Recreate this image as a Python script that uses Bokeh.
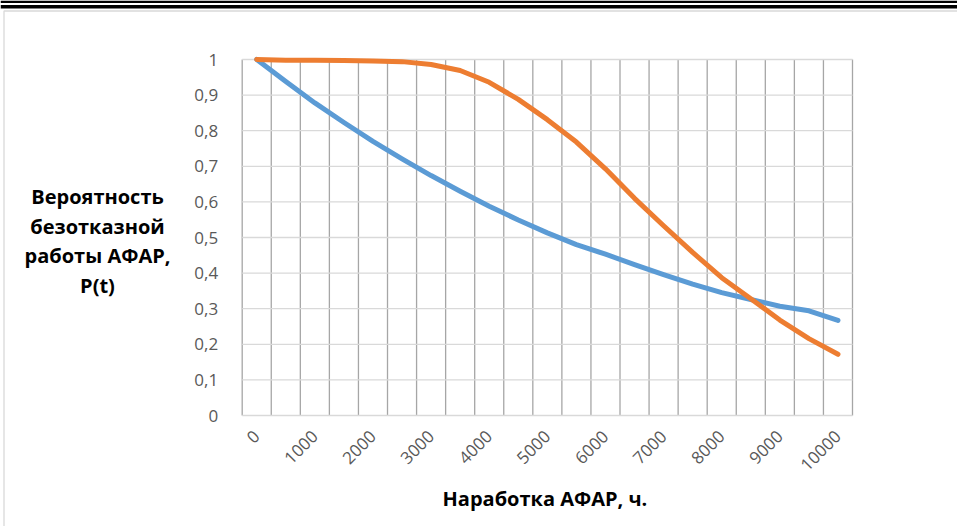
from bokeh.plotting import figure
from bokeh.models import Range1d, FixedTicker
from bokeh.core.properties import value
from bokeh.embed import file_html
from bokeh.resources import INLINE

# ---- data ----
hours = [0, 500, 1000, 1500, 2000, 2500, 3000, 3500, 4000, 4500, 5000,
         5500, 6000, 6500, 7000, 7500, 8000, 8500, 9000, 9500, 10000]
p_blue = [1.0, 0.938, 0.878, 0.823, 0.770, 0.721, 0.674, 0.630, 0.588, 0.549, 0.513,
          0.480, 0.453, 0.424, 0.396, 0.369, 0.345, 0.326, 0.307, 0.294, 0.267]
p_orange = [1.0, 0.998, 0.998, 0.997, 0.996, 0.994, 0.986, 0.969, 0.936, 0.888, 0.831,
            0.768, 0.693, 0.610, 0.533, 0.458, 0.387, 0.328, 0.268, 0.216, 0.172]
y_ticks = [0, 0.1, 0.2, 0.3, 0.4, 0.5, 0.6, 0.7, 0.8, 0.9, 1]
y_tick_labels = ["0", "0,1", "0,2", "0,3", "0,4", "0,5", "0,6", "0,7", "0,8", "0,9", "1"]
x_title = "Наработка  АФАР, ч."
y_title = ["Вероятность", "безотказной", "работы АФАР,", "P(t)"]

# ---- layout (page pixels; Bokeh's page template has no body margin) ----
W, H = 957, 526
PL, PR, PT, PB = 241.7, 852.0, 59.0, 415.0      # plot-area edges
FONT = "Open Sans"
n = len(hours)
cw = (PR - PL) / n


def X(px):   # page x -> category coordinate
    return -0.5 + (px - PL) / cw


def Y(py):   # page y -> value coordinate
    return (PB - py) / (PB - PT)


p = figure(width=W, height=H, output_backend="svg", toolbar_location=None,
           x_range=Range1d(X(0), X(W)), y_range=Range1d(Y(H), Y(0)),
           min_border=0, min_border_left=0, min_border_right=0,
           min_border_top=0, min_border_bottom=0)
p.outline_line_color = None
p.background_fill_color = "white"
p.border_fill_color = "white"
p.grid.visible = False

idx = list(range(n))
x_lo, x_hi = -0.5, n - 0.5

# page decoration: double black rule on top, light chart-area border
p.quad(left=[X(0), X(0)], right=[X(W), X(W)], top=[Y(0), Y(4.5)],
       bottom=[Y(2.5), Y(8)], fill_color="black", line_color=None)
p.line([X(3.5), X(3.5), X(W + 2)], [Y(H + 2), Y(10.5), Y(10.5)],
       line_color="#d9d9d9", line_width=1.3)

# gridlines: vertical at category boundaries, horizontal at value ticks
x_bounds = [i - 0.5 for i in range(n + 1)]
p.segment(x0=x_bounds, y0=[0] * len(x_bounds), x1=x_bounds, y1=[1] * len(x_bounds),
          line_color="#a6a6a6", line_width=1.3)
p.segment(x0=[x_lo] * len(y_ticks), y0=y_ticks, x1=[x_hi] * len(y_ticks), y1=y_ticks,
          line_color="#d9d9d9", line_width=1.3)

# series
p.line(idx, p_blue, line_color="#5b9bd5", line_width=5,
       line_cap="round", line_join="round")
p.line(idx, p_orange, line_color="#ed7d31", line_width=5,
       line_cap="round", line_join="round")

# x axis: category labels every 1000 h, fixed on the value 0
p.xaxis.fixed_location = 0
p.xaxis.bounds = (x_lo, x_hi)
p.xaxis.ticker = FixedTicker(ticks=idx[::2])
p.xaxis.major_label_overrides = {i: str(hours[i]) for i in idx[::2]}
p.xaxis.major_label_orientation = 0.785398
p.xaxis.major_tick_line_color = None
p.xaxis.minor_tick_line_color = None
p.xaxis.axis_line_color = None
p.xaxis.major_label_text_font = FONT
p.xaxis.major_label_text_font_size = "17px"
p.xaxis.major_label_text_color = "#595959"
p.xaxis.major_label_standoff = 12

# y axis fixed on the left plot-area edge
p.yaxis.fixed_location = x_lo
p.yaxis.bounds = (0, 1)
p.yaxis.ticker = FixedTicker(ticks=y_ticks)
p.yaxis.major_label_overrides = {t: s for t, s in zip(y_ticks, y_tick_labels)}
p.yaxis.major_tick_line_color = None
p.yaxis.minor_tick_line_color = None
p.yaxis.axis_line_color = None
p.yaxis.major_label_text_font = FONT
p.yaxis.major_label_text_font_size = "17px"
p.yaxis.major_label_text_color = "#595959"
p.yaxis.major_label_standoff = 18

# axis titles
p.text(x=[X(97)] * len(y_title), y=[Y(v) for v in (196, 226, 255, 285)],
       text=y_title, text_align="center", text_baseline="middle",
       text_font=value(FONT), text_font_style="bold", text_font_size="20px",
       text_color="black")
p.text(x=[X(547)], y=[Y(498)], text=[x_title], text_align="center",
       text_baseline="middle", text_font=value(FONT), text_font_style="bold",
       text_font_size="20px", text_color="black")

open("out.html", "w").write(file_html(p, INLINE))
